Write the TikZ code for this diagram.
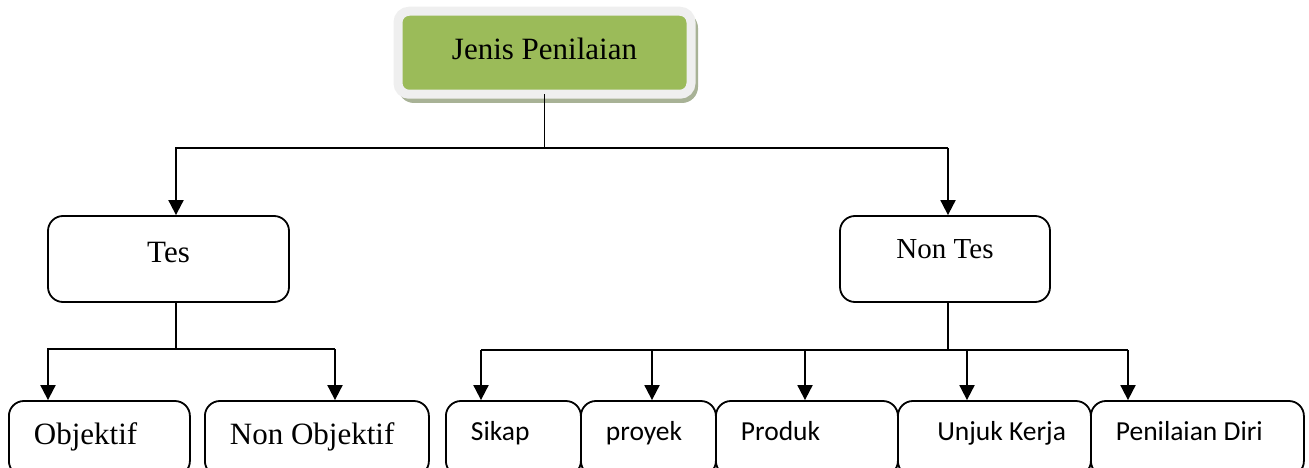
\documentclass[tikz,border=0pt]{standalone}
\usepackage{fontspec}
\setmainfont{Liberation Serif}
\newfontfamily\calibri{Carlito}
\usetikzlibrary{arrows.meta}
\definecolor{penilaiangreen}{HTML}{9BBB59}
\definecolor{framegray}{HTML}{EFEFEF}
\definecolor{shadowgray}{HTML}{A8B296}
\tikzset{
  box/.style={draw, line width=1.8pt, rounded corners=15pt, minimum height=86pt,
    font=\fontsize{31}{36}\selectfont, text height=22pt, text depth=16pt},
  leaf/.style={draw, line width=1.8pt, rounded corners=15pt, anchor=west,
    minimum height=75pt, inner xsep=25pt, text width=#1, align=flush left,
    font=\fontsize{31}{36}\selectfont, text height=22pt, text depth=11pt},
  sleaf/.style={leaf=#1, font=\calibri\fontsize{27.5}{32}\selectfont,
    text height=20pt, text depth=17pt},
  stem/.style={line width=1.3pt},
  bus/.style={line width=1.9pt},
  >={Triangle[width=15pt,length=15pt]}
}
\begin{document}
\begin{tikzpicture}[x=1pt,y=-1pt]
	\clip (0,0) rectangle (1309,468);
	% kotak atas
	\fill [shadowgray, rounded corners=16pt] (398,12) rectangle (698,103);
	\node (jenis) [draw=framegray, line width=9pt, fill=penilaiangreen, rounded corners=11pt,
		outer sep=0pt, minimum width=293pt, minimum height=83pt,
		font=\fontsize{31}{36}\selectfont, text height=22pt, text depth=8pt] at (544.5,52.75) {Jenis Penilaian};
	% tingkat kedua
	\node (tes) [box, minimum width=241pt] at (168.5,259) {Tes};
	\node (nontes) [box, minimum width=210pt, font=\fontsize{29}{34}\selectfont,
		text height=20pt, text depth=22pt] at (945,259) {Non Tes};
	% tingkat ketiga
	\node (objektif) [leaf=131pt] at (8,438.5) {Objektif};
	\node (nonobjektif) [leaf=174pt] at (204,438.5) {Non Objektif};
	\node (sikap) [sleaf=85pt] at (445,438.5) {Sikap};
	\node (proyek) [sleaf=85pt] at (580,438.5) {proyek};
	\node (produk) [sleaf=132pt] at (715,438.5) {Produk};
	\node (unjuk) [sleaf=143pt, align=flush right] at (897,438.5) {Unjuk Kerja};
	\node (diri) [sleaf=163pt] at (1090,438.5) {Penilaian Diri};
	% garis
	\coordinate (bus1w) at (176,148);
	\coordinate (bus1e) at (948,148);
	\draw [stem] (jenis.south) -- (jenis.south |- bus1w);
	\draw [bus, ->] (bus1e) -- (bus1w) -- (bus1w |- tes.north);
	\draw [bus, ->] (bus1e) -- (bus1e |- nontes.north);
	\coordinate (bus2w) at (48,349);
	\coordinate (bus2e) at (335,349);
	\draw [stem] (bus1w |- tes.south) -- (bus1w |- bus2w);
	\draw [bus, ->] (bus2e) -- (bus2w) -- (bus2w |- objektif.north);
	\draw [bus, ->] (bus2e) -- (bus2e |- nonobjektif.north);
	\coordinate (bus3w) at (481,350);
	\coordinate (bus3e) at (1128,350);
	\draw [stem] (bus1e |- nontes.south) -- (bus1e |- bus3w);
	\draw [bus] (bus3w) -- (bus3e);
	\foreach \n/\x in {sikap/481, proyek/652, produk/805, unjuk/967, diri/1128} {
		\coordinate (a\n) at (\x,350);
		\draw [bus, ->] (a\n) -- (a\n |- \n.north);
	}
\end{tikzpicture}
\end{document}
